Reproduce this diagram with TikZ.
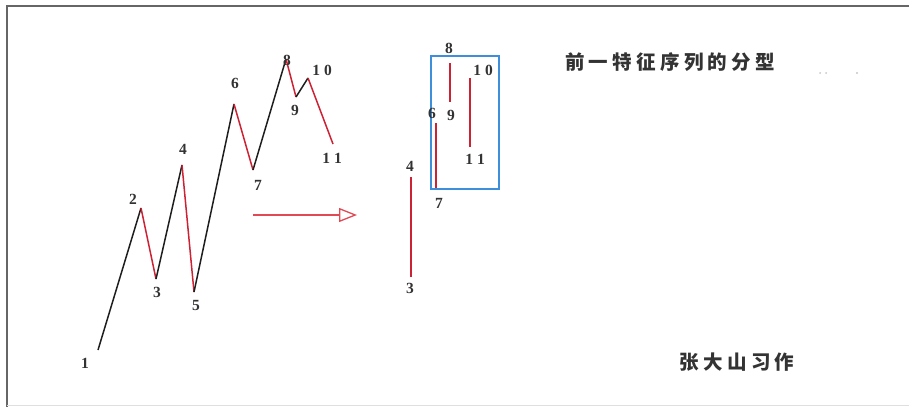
\documentclass[tikz,border=0pt]{standalone}
\usepackage{fontspec}
\setmainfont{Liberation Serif}
\newfontfamily\cjk[LetterSpace=22]{Noto Sans CJK SC}
\usetikzlibrary{arrows.meta}
\definecolor{WaveRed}{HTML}{CC2233}
\definecolor{WaveInk}{HTML}{1E1E1E}
\definecolor{ArrowRed}{HTML}{E04A55}
\definecolor{BoxBlue}{HTML}{3D8FDB}
\definecolor{FrameGray}{HTML}{666666}
\definecolor{LabelInk}{HTML}{333333}

\tikzset{
  upleg/.style={WaveInk,line width=1.5pt},
  downleg/.style={WaveRed,line width=1.5pt},
  ptlabel/.style={LabelInk,font=\fontsize{15.5}{16}\selectfont\bfseries,inner sep=0pt},
  cjklabel/.style={LabelInk,font=\cjk\bfseries\fontsize{19.5}{20}\selectfont,inner sep=0pt},
}

\begin{document}
\begin{tikzpicture}[>=Stealth,x=1pt,y=-1pt]
  \useasboundingbox (0,0) rectangle (909,407);
  % frame
  \draw[FrameGray,line width=2.2pt] (7,407)--(7,6)--(909,6);
  \draw[gray!25,line width=0.8pt] (7,405)--(909,405);

  % the up trend, points 1 to 11
  \coordinate (p1) at (98,350);
  \coordinate (p2) at (141,208);
  \coordinate (p3) at (156,279);
  \coordinate (p4) at (182,165);
  \coordinate (p5) at (194,292);
  \coordinate (p6) at (234,104);
  \coordinate (p7) at (253,170);
  \coordinate (p8) at (286,59);
  \coordinate (p9) at (296,97);
  \coordinate (p10) at (308,78);
  \coordinate (p11) at (333,144);
  \draw[upleg] (p1)--(p2);
  \draw[downleg] (p2)--(p3);
  \draw[upleg] (p3)--(p4);
  \draw[downleg] (p4)--(p5);
  \draw[upleg] (p5)--(p6);
  \draw[downleg] (p6)--(p7);
  \draw[upleg] (p7)--(p8);
  \draw[downleg] (p8)--(p9);
  \draw[upleg] (p9)--(p10);
  \draw[downleg] (p10)--(p11);
  \node[ptlabel] (l1) at (85,363) {1};
  \node[ptlabel] (l2) at (133,199) {2};
  \node[ptlabel] (l3) at (157,292) {3};
  \node[ptlabel] (l4) at (183,149) {4};
  \node[ptlabel] (l5) at (196,305) {5};
  \node[ptlabel] (l6) at (235,83) {6};
  \node[ptlabel] (l7) at (258,185) {7};
  \node[ptlabel] (l8) at (287,60) {8};
  \node[ptlabel] (l9) at (295,110) {9};
  \node[ptlabel] (l10) at (322,70) {1\hspace{4pt}0};
  \node[ptlabel] (l11) at (332,158) {1\hspace{4pt}1};

  % arrow
  \coordinate (arrS) at (253,215);
  \coordinate (arrE) at (357,215);
  \draw[ArrowRed,line width=1.3pt,-{Triangle[open,length=18pt,width=14pt]}] (arrS)--(arrE);

  % characteristic sequence
  \coordinate (q4) at (411,177);
  \coordinate (q3) at (411,277);
  \coordinate (q6) at (436,123);
  \coordinate (q7) at (436,189);
  \coordinate (q8) at (450,63);
  \coordinate (q9) at (450,102);
  \coordinate (q10) at (470,78);
  \coordinate (q11) at (470,147);
  \draw[downleg] (q4)--(q3);
  \draw[downleg] (q6)--(q7);
  \draw[downleg] (q8)--(q9);
  \draw[downleg] (q10)--(q11);
  \draw[BoxBlue,line width=2pt] (431,56) rectangle (499,189);
  \node[ptlabel] (m4) at (410,166) {4};
  \node[ptlabel] (m3) at (410,288) {3};
  \node[ptlabel] (m6) at (432,113) {6};
  \node[ptlabel] (m7) at (439,203) {7};
  \node[ptlabel] (m8) at (449,48) {8};
  \node[ptlabel] (m9) at (451,115) {9};
  \node[ptlabel] (m10) at (483,70) {1\hspace{4pt}0};
  \node[ptlabel] (m11) at (475,159) {1\hspace{4pt}1};

  % texts
  \node[cjklabel] (title) at (670,62) {前一特征序列的分型};
  \node[cjklabel] (author) at (737,362) {张大山习作};
  \fill[gray!45] (820,73) circle (1pt) (826,73) circle (1pt) (857,73) circle (1.1pt);
\end{tikzpicture}
\end{document}
